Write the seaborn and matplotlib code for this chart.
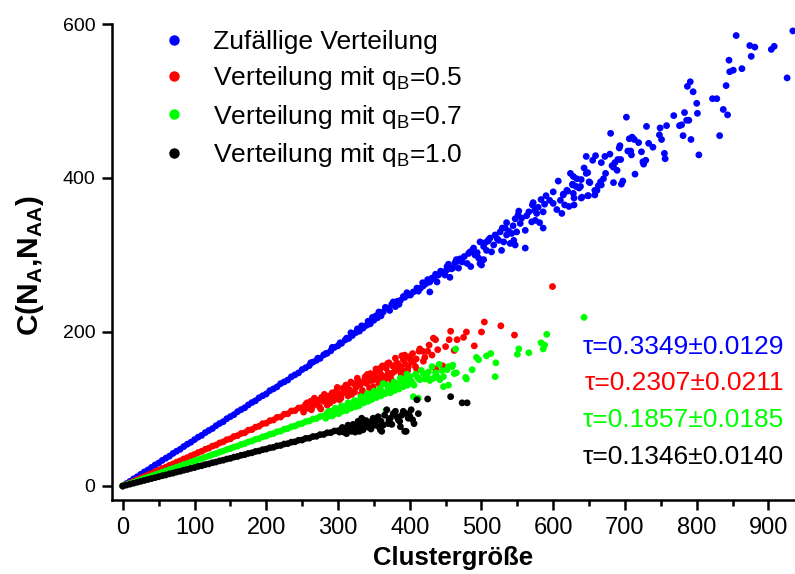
import matplotlib
matplotlib.use("Agg")
import matplotlib.pyplot as plt
from matplotlib import font_manager
from matplotlib.lines import Line2D
from matplotlib.ticker import MultipleLocator
import seaborn as sns
import pandas as pd

# ---------------- data ----------------
series_names = ["Zufällige Verteilung", "Verteilung mit q$_\\mathrm{B}$=0.5",
                "Verteilung mit q$_\\mathrm{B}$=0.7", "Verteilung mit q$_\\mathrm{B}$=1.0"]
series_colors = ["#0000ff", "#ff0000", "#00ff00", "#000000"]
tau_labels = ["\u03c4=0.3349\u00b10.0129", "\u03c4=0.2307\u00b10.0211",
              "\u03c4=0.1857\u00b10.0185", "\u03c4=0.1346\u00b10.0140"]
x_ticks = [0, 100, 200, 300, 400, 500, 600, 700, 800, 900]
y_ticks = [0, 200, 400, 600]

blue_dense_x = [0, 5, 10, 15, 20, 25, 30, 35, 40, 45, 50, 55, 60, 65, 70, 75, 80, 85, 90, 95,
                100, 105, 110, 115, 120, 125, 130, 135, 140, 145, 150, 155, 160, 165, 170, 175,
                180, 185, 190, 195, 200, 205, 210, 215, 220, 225, 230, 235, 240, 245, 250, 255,
                260, 265, 270, 275, 280, 285, 290, 295, 300, 305, 310, 315, 320, 325, 330, 335,
                340, 345, 350, 355, 360]
blue_dense_y = [0, 3.1, 6.0, 9.2, 11.9, 15.1, 18.2, 20.8, 24.1, 27.3, 29.8, 33.2, 36.1, 38.7, 42.3,
                45.1, 47.6, 51.2, 54.3, 56.8, 60.2, 63.4, 65.7, 69.3, 72.1, 74.6, 78.3, 81.2, 83.5,
                87.4, 90.1, 92.6, 96.5, 99.2, 101.6, 105.3, 108.4, 110.7, 114.6, 117.2, 119.5,
                123.8, 126.1, 128.7, 132.9, 135.2, 137.6, 141.8, 144.3, 146.9, 151.2, 153.6, 156.4,
                160.8, 163.1, 165.7, 170.2, 172.4, 175.6, 179.9, 182.1, 185.3, 189.6, 191.7, 195.4,
                199.3, 201.2, 205.1, 208.7, 210.6, 215.2, 218.4, 221.0]
blue_tail_x = [262, 272, 283, 292, 303, 312, 318, 327, 333, 342, 348, 353, 357,
               363, 370, 380, 377, 387, 391, 398, 405, 428, 415, 423, 438, 428, 440, 449, 456, 445,
               452, 460, 468, 485, 480, 473, 465, 500, 498, 503, 496, 491, 484, 514, 507, 503, 498,
               512, 528, 517, 524, 531, 540, 547, 545, 561, 526, 535, 542, 549, 561, 554, 547, 535,
               586, 581, 575, 570, 563, 552, 577, 586, 588, 574, 572, 600, 590, 595, 600, 605, 612,
               616, 622, 629, 610, 614, 620, 628, 640, 649, 661, 658, 650, 638, 627, 607,
               614, 619, 629, 639, 648, 658, 636, 632, 627, 651, 667, 663, 666, 673, 670, 684, 695,
               697, 639, 633, 628, 624, 648, 646, 643, 689, 684, 682, 690, 694, 686, 672, 667, 655,
               659, 646, 679, 714, 726, 729, 725, 756, 755, 723, 709, 708, 704, 693, 692, 719, 713,
               710, 706, 739, 733, 751, 748, 680, 702, 730, 749, 758, 803, 792, 781, 779, 776, 789,
               786, 768, 783, 801, 832, 843, 837, 828, 822, 800, 795, 787, 791, 841, 863, 851, 846,
               845, 926, 876, 908, 904, 881, 874, 934, 855,
               366, 372, 375, 383, 385, 393, 396, 401, 410, 412, 419, 425, 431, 436, 443, 447, 454,
               458, 463, 470, 476, 482, 488, 494, 505, 510, 519, 522, 533, 538, 544, 556, 566, 579,
               583, 418, 434, 451, 467, 489, 509, 529, 551, 571]
blue_tail_y = [160, 166, 172, 180, 186, 192, 199, 204, 208, 214, 219, 221, 226,
               226, 231, 233, 239, 241, 246, 248, 252, 252, 257, 263, 265, 265, 274, 274, 271, 278,
               285, 283, 283, 285, 289, 291, 294, 287, 289, 294, 296, 300, 304, 304, 306, 311, 317,
               322, 306, 313, 319, 317, 315, 313, 319, 309, 330, 326, 328, 330, 332, 341, 347, 342,
               335, 342, 345, 343, 351, 357, 354, 356, 366, 358, 368, 367, 377, 371, 382, 359, 354,
               365, 363, 365, 371, 378, 383, 380, 375, 377, 384, 378, 395, 389, 391, 396,
               379, 384, 374, 374, 377, 384, 387, 389, 392, 394, 391, 390, 395, 406, 399, 394, 392,
               396, 398, 399, 402, 406, 407, 406, 413, 410, 414, 416, 424, 424, 420, 428, 420, 423,
               429, 428, 431, 405, 418, 423, 421, 425, 432, 434, 430, 435, 435, 442, 439, 446, 450,
               453, 451, 440, 445, 450, 456, 458, 479, 467, 465, 468, 430, 450, 455, 469, 468, 475,
               475, 481, 485, 484, 455, 482, 489, 503, 503, 497, 512, 519, 525, 520, 542, 540, 538,
               553, 530, 558, 571, 567, 570, 572, 591, 585,
               232, 228, 236, 240, 236, 245, 251, 248, 257, 253, 260, 268, 270, 275, 279, 277, 288,
               282, 290, 295, 298, 302, 307, 303, 316, 320, 326, 321, 335, 331, 338, 348, 356, 362,
               372, 264, 269, 280, 292, 309, 318, 335, 352, 365]

red_dense_x = [0, 5, 10, 15, 20, 25, 30, 35, 40, 45, 50, 55, 60, 65, 70, 75, 80, 85, 90, 95,
               100, 105, 110, 115, 120, 125, 130, 135, 140, 145, 150, 155, 160, 165, 170, 175,
               180, 185, 190, 195, 200, 205, 210, 215, 220, 225, 230, 235, 240, 245, 250]
red_dense_y = [0, 2.1, 4.0, 6.2, 8.1, 10.3, 12.2, 14.5, 16.3, 18.6, 20.4, 22.7, 24.5, 26.8, 28.6,
               30.9, 32.7, 35.1, 36.8, 39.2, 41.0, 43.4, 45.1, 47.6, 49.2, 51.8, 53.1, 55.9, 57.3,
               60.1, 61.2, 64.3, 65.4, 68.2, 69.1, 72.5, 73.3, 76.4, 77.6, 80.9, 81.5, 84.8, 85.7,
               89.1, 89.6, 93.2, 93.8, 97.4, 97.9, 101.3, 101.8]
red_tail_x = [255, 258, 262, 265, 268, 271, 274, 277, 280, 283, 286, 289, 292, 295, 298, 301, 304,
              307, 310, 313, 316, 319, 322, 325, 328, 331, 334, 337, 340, 343, 346, 349, 352, 355,
              358, 361, 364, 367, 370, 373, 376, 379, 382, 385, 388, 391, 394, 397, 400, 403,
              338, 345, 352, 359, 363, 368, 375, 382, 387, 389, 396, 401, 405, 408, 410, 369,
              413, 418, 419, 425, 433, 436, 439, 436, 446, 450, 457, 455, 462, 466, 475, 479, 490,
              500, 504, 527, 546, 599,
              252, 257, 263, 267, 273, 276, 281, 285, 290, 294, 299, 302, 306, 311, 314, 318, 323,
              327, 332, 336, 341, 344, 350, 353, 357, 362, 366, 371, 375, 380, 384, 390, 393, 398,
              404, 409, 414, 421, 427, 431]
red_tail_y = [106, 101, 110, 104, 112, 107, 103, 115, 110, 117, 113, 108, 121, 116, 124, 119, 114,
              127, 122, 130, 125, 119, 133, 128, 136, 131, 124, 138, 133, 143, 137, 129, 147, 140,
              150, 144, 136, 153, 147, 141, 156, 149, 160, 152, 145, 164, 158, 150, 168, 161,
              142, 146, 144, 153, 138, 140, 146, 151, 155, 169, 167, 164, 161, 155, 151, 159,
              175, 175, 162, 175, 192, 190, 177, 152, 156, 181, 201, 190, 176, 190, 193, 200, 182,
              200, 213, 208, 196, 259,
              96, 108, 99, 114, 111, 100, 119, 105, 118, 111, 128, 112, 120, 131, 117, 135, 122,
              140, 119, 135, 145, 127, 138, 152, 133, 156, 141, 160, 137, 166, 158, 150, 170, 155,
              172, 165, 178, 167, 183, 170]

green_dense_x = [0, 5, 10, 15, 20, 25, 30, 35, 40, 45, 50, 55, 60, 65, 70, 75, 80, 85, 90, 95,
                 100, 105, 110, 115, 120, 125, 130, 135, 140, 145, 150, 155, 160, 165, 170, 175,
                 180, 185, 190, 195, 200, 205, 210, 215, 220, 225, 230, 235, 240, 245, 250, 255,
                 260, 265, 270, 275, 280]
green_dense_y = [0, 1.7, 3.2, 4.9, 6.5, 8.1, 9.8, 11.4, 13.0, 14.7, 16.2, 17.9, 19.5, 21.2, 22.7,
                 24.4, 26.0, 27.7, 29.2, 30.9, 32.5, 34.3, 35.6, 37.5, 38.9, 40.8, 42.1, 44.0, 45.4,
                 47.3, 48.6, 50.6, 51.8, 53.9, 55.1, 57.2, 58.4, 60.5, 61.6, 63.8, 64.9, 67.1, 68.1,
                 70.4, 71.3, 73.7, 74.6, 77.0, 77.8, 80.3, 81.1, 83.6, 84.4, 86.9, 87.6, 90.2, 90.9]
green_tail_x = [285, 288, 291, 294, 297, 300, 303, 306, 309, 312, 315, 318, 321, 324, 327, 330, 333,
                336, 339, 342, 345, 348, 351, 354, 357, 360, 363, 367, 366, 370, 373, 376, 379, 382,
                385, 388, 391, 394, 397, 400, 405, 412, 403, 408, 414, 419, 424, 428, 433, 438, 442,
                447, 447, 454, 452, 454, 459, 460, 462, 465, 464, 478, 479, 487, 493, 496, 507, 513,
                519, 520, 550, 552, 566, 583, 586, 588, 591, 643,
                283, 287, 292, 296, 301, 305, 310, 314, 319, 323, 328, 332, 337, 341, 346, 350, 355,
                359, 364, 369, 374, 378, 383, 387, 392, 396, 401, 406, 411, 416, 421, 426, 431, 436,
                441, 445]
green_tail_y = [95, 91, 97, 93, 99, 95, 101, 97, 103, 98, 106, 101, 108, 103, 110, 105, 113,
                108, 116, 110, 119, 113, 121, 115, 124, 117, 133, 98, 120, 127, 121, 130, 124, 133,
                126, 136, 129, 139, 131, 142, 116, 114, 135, 145, 138, 146, 142, 137, 140, 142, 138,
                142, 129, 131, 151, 155, 155, 157, 146, 147, 178, 141, 139, 151, 167, 164, 169, 172,
                142, 160, 171, 178, 173, 186, 178, 183, 197, 219,
                88, 97, 91, 101, 94, 104, 99, 108, 102, 111, 104, 116, 110, 120, 112, 123, 118,
                127, 121, 131, 125, 135, 128, 140, 133, 145, 137, 131, 141, 150, 139, 148, 155, 147,
                158, 150]

black_dense_x = [0, 5, 10, 15, 20, 25, 30, 35, 40, 45, 50, 55, 60, 65, 70, 75, 80, 85, 90, 95,
                 100, 105, 110, 115, 120, 125, 130, 135, 140, 145, 150, 155, 160, 165, 170, 175,
                 180, 185, 190, 195, 200, 205, 210, 215, 220, 225, 230, 235, 240, 245, 250, 255,
                 260, 265, 270, 275, 280, 285, 290, 295, 300]
black_dense_y = [0, 1.2, 2.4, 3.6, 4.8, 6.0, 7.2, 8.4, 9.6, 10.8, 12.0, 13.3, 14.3, 15.7, 16.7,
                 18.1, 19.1, 20.5, 21.5, 22.9, 23.9, 25.4, 26.3, 27.8, 28.7, 30.2, 31.1, 32.6, 33.5,
                 35.0, 35.9, 37.5, 38.3, 39.9, 40.7, 42.3, 43.1, 44.8, 45.5, 47.2, 47.9, 49.6, 50.2,
                 52.1, 52.6, 54.5, 55.0, 56.9, 57.4, 59.4, 59.7, 61.8, 62.1, 64.2, 64.5, 66.7, 66.9,
                 69.1, 69.3, 71.5, 71.7]
black_tail_x = [305, 308, 312, 315, 319, 322, 326, 328, 330, 333, 336, 340, 343, 347, 350, 354, 357,
                359, 361, 363, 368, 370, 373, 377, 382, 384, 387, 389, 393, 395, 395, 398, 402, 406,
                410, 412, 425, 457, 473, 480,
                302, 306, 310, 314, 317, 321, 324, 329, 332, 335, 339, 342, 346, 349, 352, 356, 360,
                365, 371, 375, 380, 386, 391, 400, 404]
black_tail_y = [74, 70, 68, 76, 71, 74, 75, 84, 71, 88, 78, 79, 76, 84, 80, 86, 77,
                73, 71, 79, 99, 81, 88, 94, 90, 86, 77, 92, 71, 71, 94, 88, 99, 81,
                112, 94, 113, 116, 108, 108,
                70, 76, 72, 79, 73, 80, 70, 77, 82, 73, 85, 80, 74, 88, 79, 90, 84,
                92, 86, 80, 97, 84, 97, 91, 86]

# ---------------- build table ----------------
frames = []
for name, xs, ys in [
    (series_names[0], blue_dense_x + blue_tail_x, blue_dense_y + blue_tail_y),
    (series_names[1], red_dense_x + red_tail_x, red_dense_y + red_tail_y),
    (series_names[2], green_dense_x + green_tail_x, green_dense_y + green_tail_y),
    (series_names[3], black_dense_x + black_tail_x, black_dense_y + black_tail_y),
]:
    frames.append(pd.DataFrame({"x": xs, "y": ys, "serie": name}))
df = pd.concat(frames, ignore_index=True)

# ---------------- style ----------------
sns.set_theme(style="ticks")
installed = {f.name for f in font_manager.fontManager.ttflist}
base_font = "Liberation Sans" if "Liberation Sans" in installed else "DejaVu Sans"
narrow_font = "Liberation Sans Narrow" if "Liberation Sans Narrow" in installed else base_font
plt.rcParams["font.family"] = [base_font, "DejaVu Sans"]
plt.rcParams["mathtext.fontset"] = "custom"
plt.rcParams["mathtext.rm"] = base_font
plt.rcParams["mathtext.it"] = base_font + ":italic"
plt.rcParams["mathtext.bf"] = base_font + ":bold"
for k in ["text.color", "axes.labelcolor", "xtick.color", "ytick.color", "axes.edgecolor"]:
    plt.rcParams[k] = "black"

W, H = 795, 574
fig = plt.figure(figsize=(W / 100, H / 100), dpi=100)
ax = fig.add_axes([112 / W, 74 / H, (W - 112) / W, (500 - 24) / H])

sns.scatterplot(data=df, x="x", y="y", hue="serie", palette=series_colors,
                hue_order=series_names, s=24, linewidth=0, legend=False, ax=ax)

ax.set_xlim(-15, 937)
ax.set_ylim(-18.2, 600)
ax.set_xticks(x_ticks)
ax.xaxis.set_minor_locator(MultipleLocator(50))
ax.set_yticks(y_ticks)
ax.set_xticklabels([str(v) for v in x_ticks], fontfamily=narrow_font, fontsize=17)
ax.set_yticklabels([str(v) for v in y_ticks], fontsize=14)
for side in ["top", "right"]:
    ax.spines[side].set_visible(False)
for side in ["left", "bottom"]:
    ax.spines[side].set_linewidth(1.8)
    ax.spines[side].set_color("black")
ax.tick_params(axis="both", which="major", direction="out", length=7, width=1.8,
               colors="black", pad=5)
ax.tick_params(axis="x", which="minor", direction="out", length=4, width=1.8, colors="black")
ax.set_xlabel("")
ax.set_ylabel("")

fig.text(453 / W, 1 - 558 / H, "Clustergröße", ha="center", va="center",
         fontsize=18.5, fontweight="bold")
fig.text(30 / W, 1 - 266 / H, r"$\mathbf{C(N_{A}{,}N_{AA})}$", ha="center", va="center",
         rotation=90, fontsize=21.5)

handles = [Line2D([0], [0], marker="o", linestyle="none", markersize=7.5,
                  markerfacecolor=c, markeredgewidth=0) for c in series_colors]
ax.legend(handles, series_names, loc="upper left", bbox_to_anchor=(163 / W, 1 - 30 / H),
          bbox_transform=fig.transFigure, frameon=False, fontsize=19, handlelength=0.85,
          handletextpad=1.05, labelspacing=0.39, borderpad=0, borderaxespad=0)

for i, (lab, col) in enumerate(zip(tau_labels, series_colors)):
    fig.text(784 / W, 1 - (346.5 + 36.7 * i) / H, lab, ha="right", va="center",
             fontsize=19, color=col)

fig.savefig("out.png", dpi=100)
